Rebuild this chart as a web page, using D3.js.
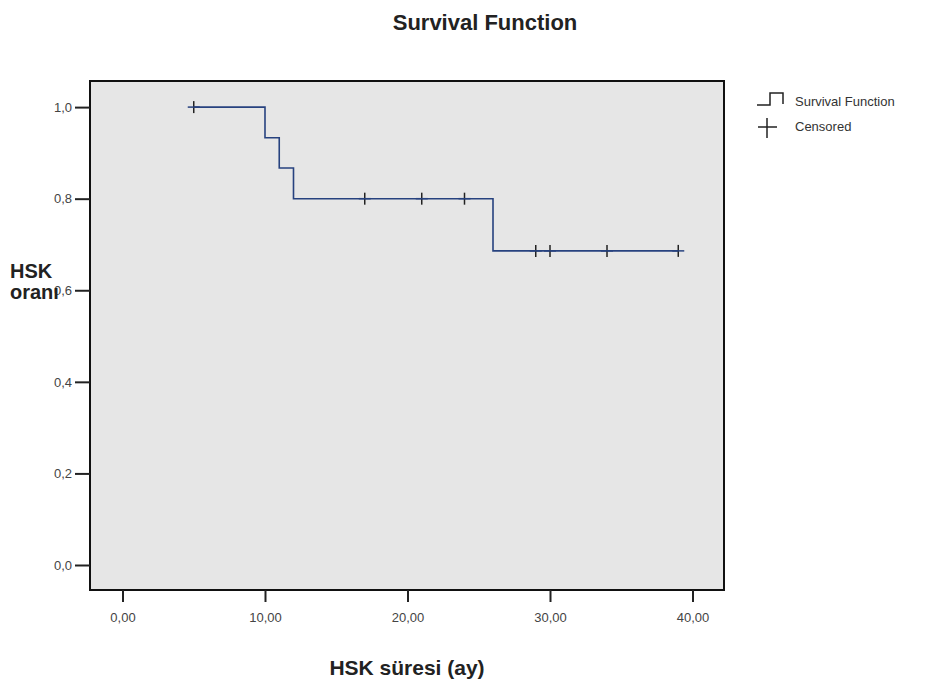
<!DOCTYPE html>
<html>
<head>
<meta charset="utf-8">
<script src="https://cdn.jsdelivr.net/npm/d3@7"></script>
<style>
  body { margin: 0; background: #fff; }
  text { font-family: "Liberation Sans", Arial, sans-serif; }
</style>
</head>
<body>
<div id="chart-area"></div>
<script>
// Kaplan-Meier steps
const stepTime = [5, 10, 11, 12, 26, 39];
const stepSurv = [1.0, 0.933, 0.867, 0.8, 0.686, 0.686];
// censored marks
const censTime = [5, 17, 21, 24, 29, 30, 34, 39];
const censSurv = [1.0, 0.8, 0.8, 0.8, 0.686, 0.686, 0.686, 0.686];
// ticks
const xTicks = [0, 10, 20, 30, 40];
const yTicks = [0, 0.2, 0.4, 0.6, 0.8, 1.0];

const W = 931, H = 685;
const box = {left: 90, right: 724, top: 81, bottom: 590};

const svg = d3.select('#chart-area')
  .append('svg')
  .attr('width', W)
  .attr('height', H);

const x = d3.scaleLinear()
  .domain([-2.28, 42.21])
  .range([box.left, box.right]);

const y = d3.scaleLinear()
  .domain([-0.0546, 1.057])
  .range([box.bottom, box.top]);

const comma = f => v => d3.format(f)(v).replace('.', ',');

// plot background
svg.append('rect')
  .attr('x', box.left)
  .attr('y', box.top)
  .attr('width', box.right - box.left)
  .attr('height', box.bottom - box.top)
  .attr('fill', '#e6e6e6')
  .attr('stroke', '#111')
  .attr('stroke-width', 2);

// Axes
const xAxisCall = d3.axisBottom(x)
  .tickValues(xTicks)
  .tickSize(12)
  .tickPadding(11)
  .tickFormat(comma('.2f'));

const yAxisCall = d3.axisLeft(y)
  .tickValues(yTicks)
  .tickSize(15)
  .tickPadding(3)
  .tickFormat(comma('.1f'));

const xg = svg.append('g')
  .attr('transform', `translate(0, ${box.bottom})`)
  .call(xAxisCall);

const yg = svg.append('g')
  .attr('transform', `translate(${box.left}, 0)`)
  .call(yAxisCall);

[xg, yg].forEach(g => {
  g.select('.domain').remove();
  g.selectAll('.tick line').attr('stroke', '#222').attr('stroke-width', 2);
  g.selectAll('.tick text')
    .attr('fill', '#444')
    .attr('font-size', '13px')
    .style('font-family', '"Liberation Sans", Arial, sans-serif');
});

// survival curve
const line = d3.line()
  .x((d, i) => x(stepTime[i]))
  .y(d => y(d))
  .curve(d3.curveStepAfter);

svg.append('path')
  .datum(stepSurv)
  .attr('d', line)
  .attr('fill', 'none')
  .attr('stroke', '#27427f')
  .attr('stroke-width', 1.6);

// censored marks
const cross = svg.append('g')
  .selectAll('g')
  .data(censTime)
  .enter()
  .append('g')
    .attr('transform', (d, i) => `translate(${x(d)}, ${y(censSurv[i])})`);

cross.append('line')
  .attr('x1', 0).attr('x2', 0)
  .attr('y1', -6).attr('y2', 6)
  .attr('stroke', '#222')
  .attr('stroke-width', 1.5);

cross.append('line')
  .attr('x1', -6).attr('x2', 6)
  .attr('y1', 0).attr('y2', 0)
  .attr('stroke', '#27427f')
  .attr('stroke-width', 1.5);

// Title
svg.append('text')
  .attr('x', 485)
  .attr('y', 30)
  .attr('text-anchor', 'middle')
  .attr('font-size', '22px')
  .attr('font-weight', 'bold')
  .attr('fill', '#222')
  .text('Survival Function');

// X Label
svg.append('text')
  .attr('x', 407)
  .attr('y', 675)
  .attr('text-anchor', 'middle')
  .attr('font-size', '21px')
  .attr('font-weight', 'bold')
  .attr('fill', '#222')
  .text('HSK süresi (ay)');

// Y Label (two lines, horizontal), sits just over the 0,6 tick as in the original
const yl = svg.append('text')
  .attr('x', 10)
  .attr('font-size', '20px')
  .attr('font-weight', 'bold')
  .attr('fill', '#222');
yl.append('tspan').attr('x', 10).attr('y', 278).text('HSK');
yl.append('tspan').attr('x', 10).attr('y', 299).text('oranı');

// Legend
const lg = svg.append('g');
lg.append('path')
  .attr('d', 'M757,105 H770 V93 H783 V104')
  .attr('fill', 'none')
  .attr('stroke', '#222')
  .attr('stroke-width', 1.5);
lg.append('line')
  .attr('x1', 767).attr('x2', 767)
  .attr('y1', 118).attr('y2', 138)
  .attr('stroke', '#222').attr('stroke-width', 1.5);
lg.append('line')
  .attr('x1', 758).attr('x2', 777)
  .attr('y1', 127).attr('y2', 127)
  .attr('stroke', '#222').attr('stroke-width', 1.5);
lg.append('text')
  .attr('x', 795).attr('y', 106)
  .attr('font-size', '13px')
  .attr('fill', '#333')
  .text('Survival Function');
lg.append('text')
  .attr('x', 795).attr('y', 131)
  .attr('font-size', '13px')
  .attr('fill', '#333')
  .text('Censored');
</script>
</body>
</html>
